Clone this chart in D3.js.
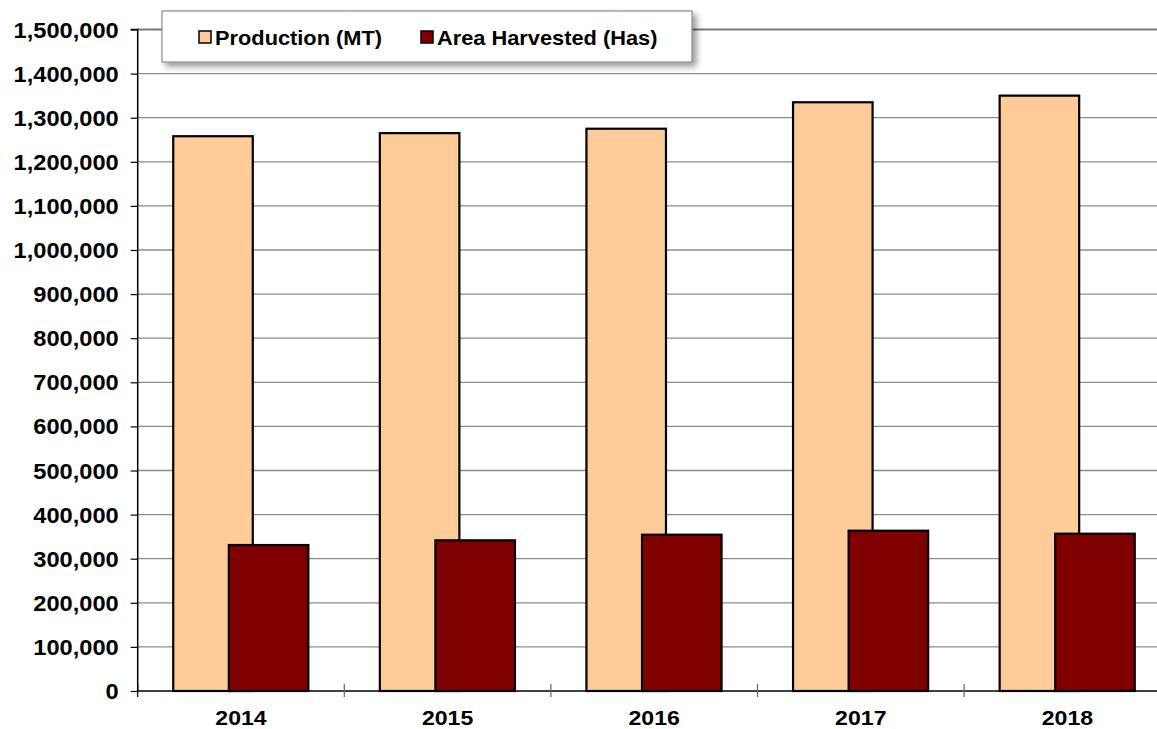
<!DOCTYPE html>
<html><head><meta charset="utf-8">
<script src="https://cdn.jsdelivr.net/npm/d3@7"></script>
<style>
html,body{margin:0;padding:0;background:#fff;}
text{font-family:"Liberation Sans",Arial,sans-serif;font-weight:bold;fill:#000;}
</style></head>
<body>
<svg id="chart" width="1157" height="729"></svg>
<script>
const years = ["2014","2015","2016","2017","2018"];
const production = [1258000, 1265000, 1275000, 1335000, 1350000];
const areaHarvested = [331000, 341700, 354400, 363500, 356700];
const yTicks = [0,100000,200000,300000,400000,500000,600000,700000,800000,900000,1000000,1100000,1200000,1300000,1400000,1500000];
const seriesNames = ["Production (MT)", "Area Harvested (Has)"];
const seriesColors = ["#FFCC99", "#800000"];

(function(){
const svg = d3.select("#chart");
const pL = 137.7, pR = 1170.7, pT = 29.5, pB = 691;
const x = d3.scaleBand().domain(years).range([pL, pR]).padding(0);
const y = d3.scaleLinear().domain([0, 1500000]).range([pB, pT]);
const bw = x.bandwidth();
const barW = bw * 0.385;
const offs = [bw * 0.172, bw * 0.441];
const fmt = d3.format(",");
const sx = 1.1;

const defs = svg.append("defs");
const f = defs.append("filter").attr("id","sh").attr("x","-10%").attr("y","-30%").attr("width","130%").attr("height","180%");
f.append("feDropShadow").attr("dx",4).attr("dy",4).attr("stdDeviation",3).attr("flood-color","#000").attr("flood-opacity",0.4);

// gridlines
svg.append("g").selectAll("line").data(yTicks.filter(d=>d>0)).join("line")
  .attr("x1", pL).attr("x2", 1157)
  .attr("y1", d=>y(d)).attr("y2", d=>y(d))
  .attr("stroke", d=> d===1500000 ? "#7a7a7a" : "#8c8c8c")
  .attr("stroke-width", d=> d===1500000 ? 2.2 : 1.3);

// y axis
const yAxis = d3.axisLeft(y).tickValues(yTicks).tickSize(7).tickFormat(fmt);
const gy = svg.append("g").attr("transform",`translate(${pL},0)`).call(yAxis);
gy.attr("font-size",null).attr("font-family",null);
gy.select(".domain").attr("stroke","#000").attr("stroke-width",1.5).attr("d",`M-7,${pT}H0V${pB}`);
gy.selectAll(".tick line").attr("stroke","#000").attr("stroke-width",1.2);
gy.selectAll(".tick text")
  .attr("x",null).attr("dy",null)
  .attr("transform",`translate(-19,7.5) scale(${sx},1)`)
  .attr("text-anchor","end")
  .style("font-size","21.5px");

// bars
const series = [production, areaHarvested];
series.forEach((vals, si) => {
  svg.append("g").selectAll("rect").data(years).join("rect")
    .attr("x", (d)=> x(d) + offs[si])
    .attr("y", (d,i)=> y(vals[i]))
    .attr("width", barW)
    .attr("height", (d,i)=> y(0) - y(vals[i]))
    .attr("fill", seriesColors[si])
    .attr("stroke", "#000").attr("stroke-width", 2.2);
});

// x axis
const ticksX = years.map(d=>x(d)).concat([pR]);
svg.append("line").attr("x1",pL).attr("x2",1157).attr("y1",pB).attr("y2",pB).attr("stroke","#000").attr("stroke-width",1.5);
svg.append("g").selectAll("line").data(ticksX).join("line")
  .attr("x1",d=>d).attr("x2",d=>d).attr("y1",pB-7).attr("y2",pB+6)
  .attr("stroke",(d,i)=> i===0 ? "#000" : "#666").attr("stroke-width",1.2);
svg.append("g").selectAll("text").data(years).join("text")
  .attr("transform", d=>`translate(${x(d)+bw/2},724.5) scale(${sx},1)`)
  .attr("text-anchor","middle").style("font-size","21px").text(d=>d);

// legend
const lg = svg.append("g");
lg.append("rect").attr("x",162).attr("y",11).attr("width",530).attr("height",51)
  .attr("fill","#fff").attr("stroke","#8a8a8a").attr("stroke-width",1.2).attr("filter","url(#sh)");
const legX = [199, 421];
seriesNames.forEach((n,i)=>{
  lg.append("rect").attr("x",legX[i]).attr("y",31).attr("width",12).attr("height",12)
    .attr("fill",seriesColors[i]).attr("stroke","#000").attr("stroke-width",1.5);
  lg.append("text").attr("transform",`translate(${legX[i]+16},44.5) scale(1.09,1)`)
    .style("font-size","20px").text(n);
});
})();
</script>
</body></html>
